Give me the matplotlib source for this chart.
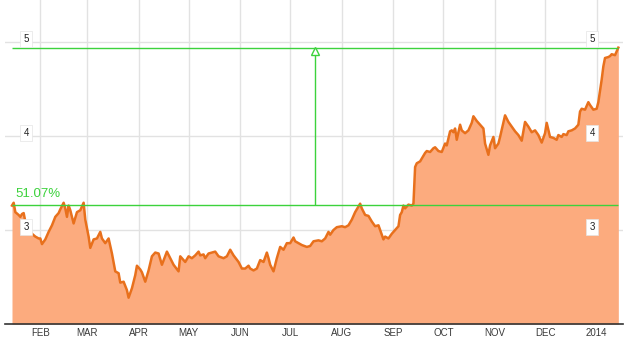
import pandas as pd
import matplotlib.pyplot as plt

# 数据: 自 2013-01-15 起的天数, 收盘价
start = pd.Timestamp("2013-01-15")
days = [0, 1, 2, 4, 5, 6, 7, 8, 10, 12, 14, 16, 17, 18, 20, 22, 24, 26, 28, 29,
        31, 32, 33, 34, 35, 37, 39, 41, 43, 44, 46, 47, 49, 51, 53, 54, 56, 58, 60, 62,
        64, 65, 67, 69, 70, 72, 74, 75, 77, 78, 80, 82, 84, 86, 88, 90, 93, 95, 97, 100,
        101, 103, 104, 106, 108, 110, 112, 113, 115, 116, 118, 120, 122, 124, 127, 129, 131, 133, 136, 138,
        140, 142, 143, 145, 147, 149, 151, 153, 154, 155, 157, 159, 161, 163, 165, 167, 169, 170, 172, 174,
        177, 179, 181, 184, 186, 188, 190, 191, 193, 195, 198, 200, 202, 204, 206, 209, 210, 212, 214, 216,
        218, 220, 221, 223, 224, 226, 228, 230, 232, 233, 234, 235, 236, 238, 240, 241, 242, 243, 245, 246,
        248, 249, 251, 253, 254, 256, 258, 260, 261, 263, 264, 265, 266, 267, 269, 270, 272, 274, 276, 277,
        279, 281, 283, 284, 286, 287, 289, 290, 292, 293, 295, 296, 298, 300, 302, 304, 306, 308, 310, 312,
        314, 316, 318, 320, 321, 323, 325, 327, 328, 330, 331, 333, 334, 336, 338, 340, 341, 342, 344, 346,
        347, 349, 351, 352, 354, 355, 356, 358, 359, 360, 362, 363, 364]
prices = [3.26, 3.29, 3.19, 3.16, 3.14, 3.17, 3.18, 3.09, 3.02, 2.96, 2.93, 2.91, 2.91, 2.85, 2.90, 2.98, 3.05, 3.14, 3.18, 3.22,
          3.29, 3.23, 3.14, 3.26, 3.21, 3.07, 3.19, 3.21, 3.29, 3.11, 2.93, 2.81, 2.90, 2.91, 2.98, 2.91, 2.86, 2.91, 2.75, 2.56,
          2.54, 2.44, 2.45, 2.36, 2.28, 2.38, 2.52, 2.62, 2.58, 2.55, 2.45, 2.57, 2.72, 2.76, 2.75, 2.63, 2.77, 2.70, 2.63, 2.56,
          2.72, 2.68, 2.66, 2.72, 2.70, 2.73, 2.77, 2.73, 2.74, 2.70, 2.75, 2.76, 2.77, 2.72, 2.70, 2.72, 2.79, 2.73, 2.66, 2.59,
          2.59, 2.62, 2.59, 2.57, 2.59, 2.68, 2.66, 2.76, 2.70, 2.63, 2.56, 2.70, 2.82, 2.79, 2.86, 2.86, 2.92, 2.88, 2.86, 2.84,
          2.82, 2.83, 2.88, 2.89, 2.88, 2.91, 2.98, 2.95, 3.00, 3.03, 3.04, 3.03, 3.05, 3.11, 3.19, 3.28, 3.23, 3.16, 3.15, 3.09,
          3.04, 3.05, 3.00, 2.90, 2.93, 2.91, 2.96, 3.00, 3.04, 3.16, 3.19, 3.26, 3.23, 3.27, 3.26, 3.28, 3.67, 3.71, 3.73, 3.76,
          3.82, 3.84, 3.83, 3.87, 3.88, 3.84, 3.83, 3.92, 3.90, 4.05, 4.06, 4.04, 4.08, 3.96, 4.12, 4.06, 4.03, 4.06, 4.14, 4.21,
          4.16, 4.12, 4.08, 3.92, 3.80, 3.90, 3.99, 3.87, 3.92, 3.99, 4.14, 4.22, 4.15, 4.10, 4.05, 4.01, 3.95, 4.15, 4.10, 4.04,
          4.06, 4.01, 3.93, 4.03, 4.14, 3.99, 3.98, 3.96, 4.01, 3.99, 4.02, 4.01, 4.05, 4.06, 4.08, 4.12, 4.26, 4.29, 4.28, 4.36,
          4.33, 4.28, 4.29, 4.36, 4.60, 4.74, 4.83, 4.84, 4.85, 4.87, 4.86, 4.90, 4.94]
month_ticks = ["2013-02-01", "2013-03-01", "2013-04-01", "2013-05-01", "2013-06-01", "2013-07-01",
               "2013-08-01", "2013-09-01", "2013-10-01", "2013-11-01", "2013-12-01", "2014-01-01"]
month_labels = ["FEB", "MAR", "APR", "MAY", "JUN", "JUL", "AUG", "SEP", "OCT", "NOV", "DEC", "2014"]
y_levels = [3, 4, 5]
base_price = 3.266
top_price = 4.936
marker_day = 182
pct_label = "51.07%"

dates = start + pd.to_timedelta(days, unit="D")

plt.rcParams['font.family'] = ['Liberation Sans', 'DejaVu Sans']
line_c = '#e8701c'
fill_c = '#fcab7e'
green = '#3cd23c'

fig = plt.figure(figsize=(6.3, 3.41), dpi=100)
ax = fig.add_axes([5 / 630, 17 / 341, 618 / 630, 324 / 341])

ax.fill_between(dates, prices, 2.0, color=fill_c, lw=0, zorder=2)
ax.plot(dates, prices, color=line_c, lw=1.8, zorder=3)

ax.set_xlim(start - pd.Timedelta(days=4.2), dates[-1] + pd.Timedelta(days=2.8))
ax.set_ylim(2.0, 5.447)

ax.set_xticks(pd.to_datetime(month_ticks))
ax.set_xticklabels(month_labels, fontsize=7, color='#3a3a3a')
ax.set_yticks(y_levels)
ax.set_yticklabels([])
ax.tick_params(length=0, pad=3)
ax.grid(True, color='#e2e2e2', lw=1, zorder=1)
ax.set_axisbelow(True)
for s in ['top', 'left', 'right']:
    ax.spines[s].set_visible(False)
ax.spines['bottom'].set_color('#333333')
ax.spines['bottom'].set_linewidth(1.2)
ax.spines['bottom'].set_zorder(5)

# 绿色的涨幅标注
ax.hlines([base_price, top_price], dates[0], dates[-1], color=green, lw=1, zorder=4)
mid = start + pd.Timedelta(days=marker_day)
ax.vlines(mid, base_price, top_price, color=green, lw=1, zorder=4)
ax.plot([mid], [top_price - 0.035], marker='^', ms=6, mfc='white', mec=green, mew=1, zorder=5)
ax.text(10 / 618, base_price + 0.12, pct_label, transform=ax.get_yaxis_transform(),
        color=green, fontsize=9.5, va='center', ha='left', zorder=6)

# 坐标值标签 (左右两侧)
for v in y_levels:
    for xf in [21 / 618, 587 / 618]:
        ax.text(xf, v + 0.03, str(v), transform=ax.get_yaxis_transform(), fontsize=7,
                color='#222222', ha='center', va='center', zorder=6,
                bbox=dict(fc='white', ec='#e4e4e4', lw=0.5, boxstyle='square,pad=0.3'))

plt.savefig("out.png", dpi=100)
